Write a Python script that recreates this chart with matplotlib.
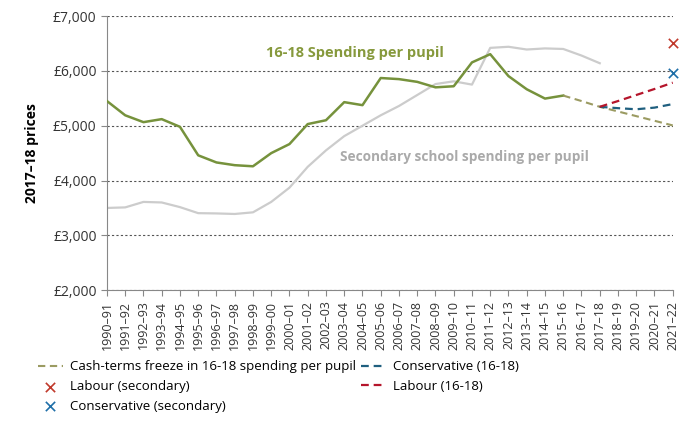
import matplotlib
matplotlib.use("Agg")
import matplotlib.pyplot as plt

plt.rcParams['font.family'] = ['Open Sans', 'DejaVu Sans']

years = ["1990–91","1991–92","1992–93","1993–94","1994–95","1995–96","1996–97","1997–98",
         "1998–99","1999–00","2000–01","2001–02","2002–03","2003–04","2004–05","2005–06",
         "2006–07","2007–08","2008–09","2009–10","2010–11","2011–12","2012–13","2013–14",
         "2014–15","2015–16","2016–17","2017–18","2018–19","2019–20","2020–21","2021–22"]

spend_1618 = [5450, 5190, 5065, 5120, 4980, 4460, 4330, 4280, 4260, 4500, 4665, 5030, 5100,
              5430, 5375, 5870, 5850, 5800, 5700, 5720, 6155, 6305, 5905, 5665, 5495, 5550]
secondary = [3500, 3510, 3610, 3600, 3515, 3405, 3400, 3390, 3420, 3610, 3870, 4250, 4550,
             4810, 5000, 5190, 5360, 5560, 5760, 5810, 5750, 6420, 6440, 6390, 6410, 6400,
             6280, 6140]
freeze = [5550, 5450, 5345, 5260, 5175, 5090, 5005]   # 2015-16 .. 2021-22
cons_1618 = [5345, 5320, 5300, 5330, 5395]            # 2017-18 .. 2021-22
lab_1618 = [5345, 5450, 5560, 5670, 5785]             # 2017-18 .. 2021-22
lab_secondary = 6500      # 2021-22
cons_secondary = 5965     # 2021-22

yticks = [2000, 3000, 4000, 5000, 6000, 7000]
ytick_labels = ["£2,000", "£3,000", "£4,000", "£5,000", "£6,000", "£7,000"]

green = "#76923C"
fig = plt.figure(figsize=(6.9, 4.23), dpi=100)
ax = fig.add_axes([0.155, 0.314, 0.82, 0.648])

x = list(range(len(years)))
ax.plot(x[:len(secondary)], secondary, color="#cccccc", lw=1.6, zorder=2)
ax.plot(x[:len(spend_1618)], spend_1618, color=green, lw=1.8, zorder=3)
ax.plot(x[25:25 + len(freeze)], freeze, color="#9b9b62", lw=1.5, ls=(0, (3.5, 2.2)),
        label="Cash-terms freeze in 16-18 spending per pupil", zorder=3)
ax.scatter([x[-1]], [lab_secondary], marker="x", color="#c0392b", s=45, lw=1.2,
           label="Labour (secondary)", zorder=4, clip_on=False)
ax.scatter([x[-1]], [cons_secondary], marker="x", color="#1f6fa8", s=45, lw=1.2,
           label="Conservative (secondary)", zorder=4, clip_on=False)
ax.plot(x[27:27 + len(cons_1618)], cons_1618, color="#1f5f7f", lw=1.6, ls=(0, (3.5, 2.2)),
        label="Conservative (16-18)", zorder=3)
ax.plot(x[27:27 + len(lab_1618)], lab_1618, color="#b5152b", lw=1.6, ls=(0, (3.5, 2.2)),
        label="Labour (16-18)", zorder=3)

ax.set_xlim(0, len(years) - 1)
ax.set_ylim(2000, 7000)
ax.set_yticks(yticks)
ax.set_yticklabels(ytick_labels, fontsize=10, color="#333333")
ax.set_xticks(x)
ax.set_xticklabels(years, rotation=90, fontsize=9, color="#333333")
ax.yaxis.grid(True, linestyle=(0, (2, 2)), color="#555555", lw=0.8)
ax.set_axisbelow(True)
for s in ["top", "right"]:
    ax.spines[s].set_visible(False)
for s in ["left", "bottom"]:
    ax.spines[s].set_color("#888888")
ax.tick_params(axis="both", color="#888888", length=4)
ax.set_ylabel("2017–18 prices", fontsize=10, fontweight="bold", labelpad=10)

ax.text(13.6, 6330, "16-18 Spending per pupil", color="#86993c", fontsize=10.5,
        fontweight="bold", ha="center", va="center")
ax.text(19.6, 4430, "Secondary school spending per pupil", color="#aaaaaa", fontsize=9.8,
        fontweight="bold", ha="center", va="center")

fig.legend(loc="upper left", bbox_to_anchor=(0.055, 0.148), ncol=2, frameon=False,
           prop={"family": ["Open Sans"], "size": 9.5},
           handlelength=1.9, handletextpad=0.5, columnspacing=0.4,
           labelspacing=0.5, borderaxespad=0, borderpad=0)

fig.savefig("out.png", dpi=100)
